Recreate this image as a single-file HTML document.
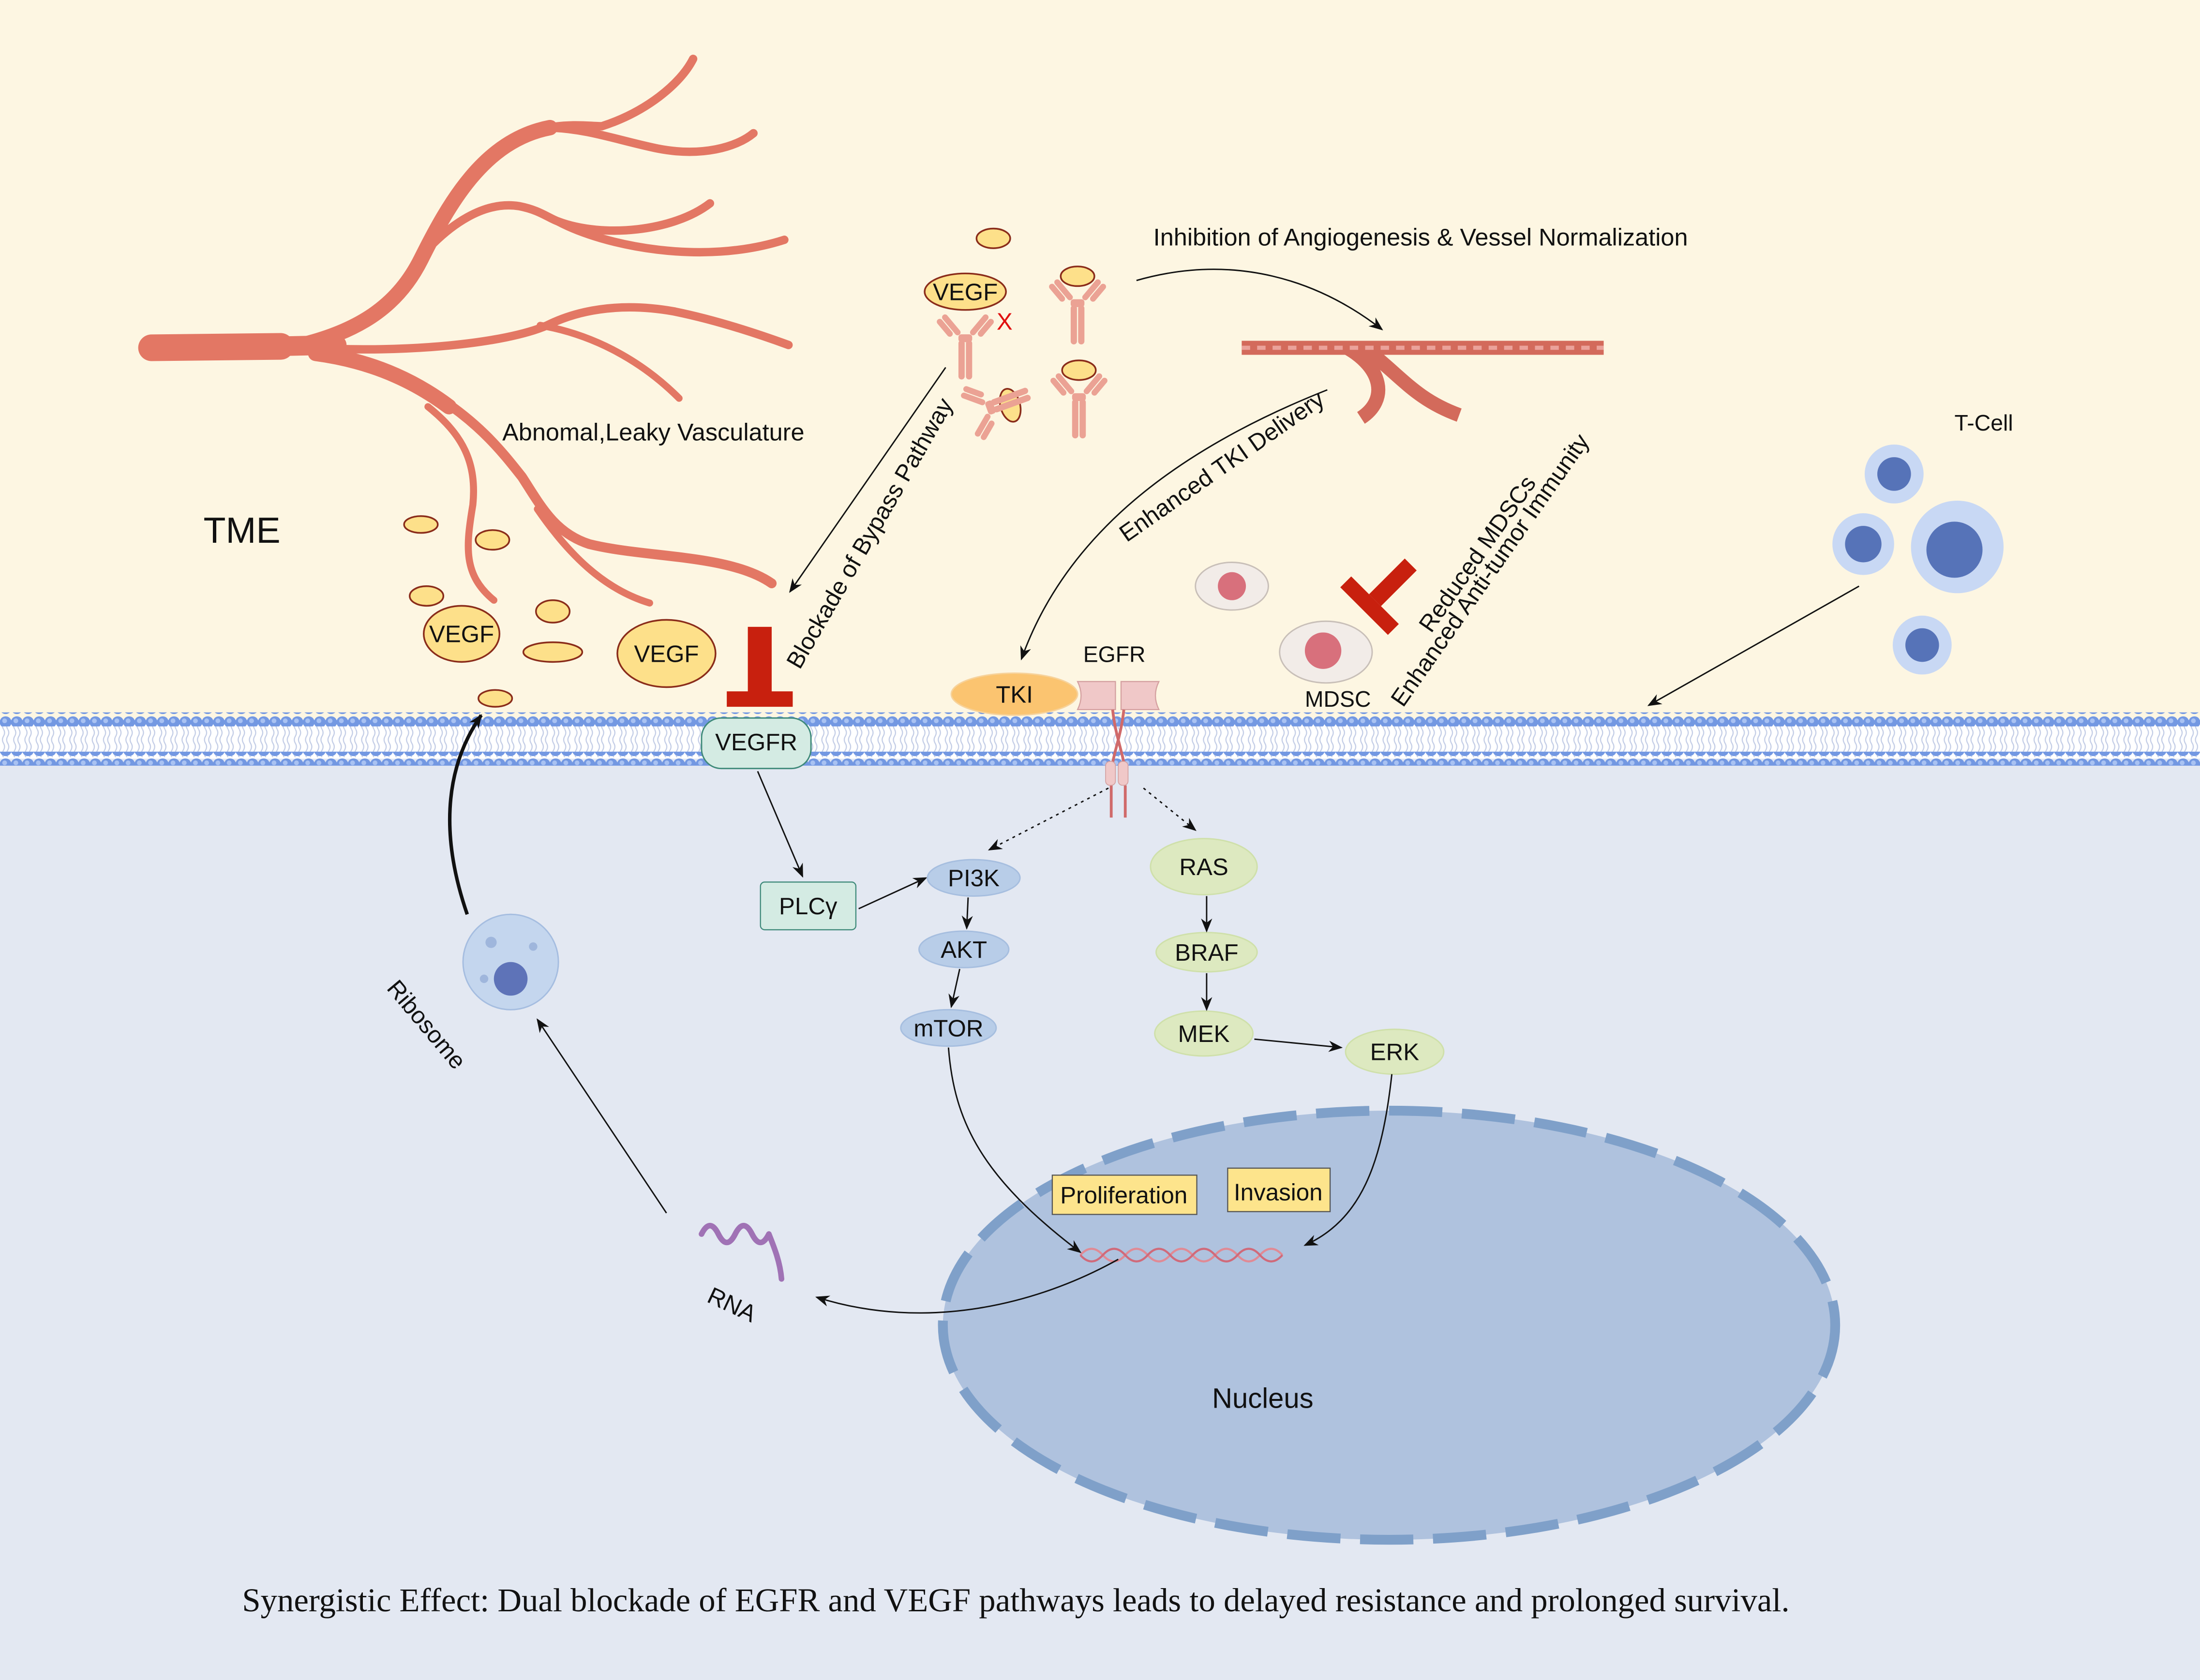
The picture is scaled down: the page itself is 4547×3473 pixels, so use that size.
<!DOCTYPE html>
<html><head><meta charset="utf-8"><style>
html,body{margin:0;padding:0;}
svg{display:block;}
text{font-family:"Liberation Sans",sans-serif;fill:#111;}
</style></head><body>
<svg width="4547" height="3473" viewBox="0 0 1568 1198" preserveAspectRatio="none" xmlns="http://www.w3.org/2000/svg">
<defs>
<marker id="ah" markerWidth="10" markerHeight="8" refX="9" refY="4" orient="auto" markerUnits="userSpaceOnUse"><path d="M0,0 L10,4 L0,8 L3,4Z" fill="#111"/></marker>
<pattern id="heads" x="0" y="0" width="8" height="10" patternUnits="userSpaceOnUse"><circle cx="4" cy="5" r="4.2" fill="#7398e2"/><circle cx="3.3" cy="4" r="1.7" fill="#a9c2f2"/></pattern>
<pattern id="tails" x="0" y="0" width="8" height="20" patternUnits="userSpaceOnUse"><path d="M2.5,0 q1.5,2.5 0,5 q-1.5,2.5 0,5 q1.5,2.5 0,5 q-1.5,2.5 0,5 M5.5,0 q1.5,2.5 0,5 q-1.5,2.5 0,5 q1.5,2.5 0,5 q-1.5,2.5 0,5" stroke="#c3cde6" stroke-width="0.8" fill="none"/></pattern>
<g id="ab">
<rect x="-3.5" y="4" width="3.2" height="20" rx="1.6" fill="#eba294"/>
<rect x="0.3" y="4" width="3.2" height="20" rx="1.6" fill="#eba294"/>
<rect x="-3.5" y="1" width="7" height="4" rx="1.5" fill="#eba294"/>
<g transform="rotate(-40)"><rect x="-4.5" y="-14" width="3" height="13" rx="1.5" fill="#eba294"/><rect x="-8" y="-14" width="3" height="11" rx="1.5" fill="#eba294"/></g>
<g transform="rotate(40)"><rect x="1.5" y="-14" width="3" height="13" rx="1.5" fill="#eba294"/><rect x="5" y="-14" width="3" height="11" rx="1.5" fill="#eba294"/></g>
</g>
</defs>
<rect x="0" y="0" width="1568" height="527" fill="#fdf6e2"/>
<rect x="0" y="527" width="1568" height="671" fill="#e3e8f2"/>

<!-- membrane -->
<rect x="0" y="513" width="1568" height="28" fill="#fff"/>
<rect x="0" y="514" width="1568" height="26" fill="url(#tails)"/>
<rect x="0" y="508" width="1568" height="10" fill="url(#heads)"/>
<rect x="0" y="536" width="1568" height="10" fill="url(#heads)"/>

<!-- vasculature -->
<g fill="none" stroke="#e37764" stroke-linecap="round">
<path d="M108,248 L200,247" stroke-width="19"/>
<path d="M195,247 L240,246" stroke-width="14"/>
<path d="M215,246 C260,235 285,215 300,185 C320,145 345,100 392,91" stroke-width="11"/>
<path d="M390,91 C410,88 420,90 429,90 C460,80 485,60 494,42" stroke-width="6"/>
<path d="M392,91 C420,92 440,100 469,106 C500,112 525,105 537,95" stroke-width="6"/>
<path d="M300,183 C320,160 345,143 370,147 C385,150 390,155 398,158 C430,170 480,165 506,145" stroke-width="6"/>
<path d="M398,158 C430,175 500,190 559,171" stroke-width="6"/>
<path d="M220,248 C290,252 360,245 390,232 C410,222 440,215 480,222 C510,228 540,238 562,246" stroke-width="6"/>
<path d="M385,232 C420,238 455,255 484,284" stroke-width="5"/>
<path d="M225,252 C270,258 300,275 320,290" stroke-width="11"/>
<path d="M315,285 C345,305 360,325 372,340 C385,360 395,380 420,388 C460,398 520,395 550,416" stroke-width="7"/>
<path d="M383,363 C405,395 430,420 463,430" stroke-width="5"/>
<path d="M305,290 C330,310 340,330 337,360 C332,390 330,410 352,428" stroke-width="5"/>
</g>
<text x="145" y="387" font-size="26">TME</text>
<text x="358" y="314" font-size="17.4">Abnomal,Leaky Vasculature</text>

<g fill="#fde08a" stroke="#8a2c1a" stroke-width="1.2">
<ellipse cx="300" cy="374" rx="12" ry="6"/>
<ellipse cx="351" cy="385" rx="12" ry="7"/>
<ellipse cx="304" cy="425" rx="12" ry="7"/>
<ellipse cx="394" cy="436" rx="12" ry="8"/>
<ellipse cx="394" cy="465" rx="21" ry="7"/>
<ellipse cx="353" cy="498" rx="12" ry="6"/>
<ellipse cx="329" cy="452" rx="27" ry="20"/>
<ellipse cx="475" cy="466" rx="35" ry="24"/>
<ellipse cx="708" cy="170" rx="12" ry="7"/>
<ellipse cx="688" cy="208" rx="29" ry="13"/>
<ellipse cx="768" cy="197" rx="12" ry="7"/>
<ellipse cx="769" cy="264" rx="12" ry="7"/>
<ellipse cx="720" cy="289" rx="7" ry="12" transform="rotate(-15 720 289)"/>
</g>
<text x="329" y="458" font-size="17" text-anchor="middle">VEGF</text>
<text x="475" y="472" font-size="17" text-anchor="middle">VEGF</text>
<text x="688" y="214" font-size="17" text-anchor="middle">VEGF</text>
<text x="716" y="235" font-size="17" text-anchor="middle" style="fill:#e01010">X</text>
<use href="#ab" transform="translate(688,237) scale(1.4)"/>
<use href="#ab" transform="translate(768,212) scale(1.4)"/>
<use href="#ab" transform="translate(769,279) scale(1.4)"/>
<use href="#ab" transform="translate(702,292) rotate(-110) scale(1.4)"/>

<!-- normalized vessel -->
<g fill="none" stroke-linecap="butt">
<path d="M885,248 L1143,248" stroke="#d36a5b" stroke-width="10"/>
<path d="M960,248 C985,262 990,285 970,298" stroke="#d36a5b" stroke-width="10"/>
<path d="M975,250 C1000,270 1010,285 1040,296" stroke="#d36a5b" stroke-width="10"/>
<path d="M885,248 L1143,248" stroke="#eba29a" stroke-width="3" stroke-dasharray="6 5"/>
</g>
<text x="822" y="175" font-size="17.4">Inhibition of Angiogenesis &amp; Vessel Normalization</text>
<path d="M810,200 C880,180 940,200 985,235" fill="none" stroke="#111" stroke-width="1" marker-end="url(#ah)"/>
<path d="M946,278 C840,320 760,380 728,470" fill="none" stroke="#111" stroke-width="1" marker-end="url(#ah)"/>
<text transform="translate(803,387) rotate(-35)" font-size="17">Enhanced TKI Delivery</text>
<path d="M674,262 L563,422" fill="none" stroke="#111" stroke-width="1" marker-end="url(#ah)"/>
<text transform="translate(570,478) rotate(-60)" font-size="17">Blockade of Bypass Pathway</text>

<!-- inhibitor T -->
<rect x="533" y="447" width="17" height="47" fill="#c8200e"/>
<rect x="518" y="493" width="47" height="11" fill="#c8200e"/>
<g transform="translate(980,428) rotate(45)"><rect x="-6" y="-36" width="12" height="36" fill="#c8200e"/><rect x="-24" y="0" width="48" height="11" fill="#c8200e"/></g>
<text transform="translate(1020,452) rotate(-55)" font-size="17">Reduced MDSCs</text>
<text transform="translate(1000,505) rotate(-55)" font-size="17">Enhanced Anti-tumor Immunity</text>

<!-- MDSC -->
<ellipse cx="878" cy="418" rx="26" ry="17" fill="#f2ece8" stroke="#c8bfb8"/>
<circle cx="878" cy="418" r="10" fill="#d8707c"/>
<ellipse cx="945" cy="465" rx="33" ry="22" fill="#f2ece8" stroke="#c8bfb8"/>
<circle cx="943" cy="464" r="13" fill="#d8707c"/>
<text x="930" y="504" font-size="16">MDSC</text>

<!-- T cells -->
<g>
<circle cx="1350" cy="338" r="21" fill="#c8d8f4"/><circle cx="1350" cy="338" r="12" fill="#5673b8"/>
<circle cx="1328" cy="388" r="22" fill="#c8d8f4"/><circle cx="1328" cy="388" r="13" fill="#5673b8"/>
<circle cx="1395" cy="390" r="33" fill="#c8d8f4"/><circle cx="1393" cy="392" r="20" fill="#5673b8"/>
<circle cx="1370" cy="460" r="21" fill="#c8d8f4"/><circle cx="1370" cy="460" r="12" fill="#5673b8"/>
</g>
<text x="1393" y="307" font-size="16">T-Cell</text>
<path d="M1325,418 L1175,503" fill="none" stroke="#111" stroke-width="1" marker-end="url(#ah)"/>

<!-- TKI & EGFR -->
<ellipse cx="723" cy="495" rx="45" ry="15" fill="#fbc470" stroke="#f7d29a"/>
<text x="723" y="501" font-size="17" text-anchor="middle">TKI</text>
<text x="772" y="472" font-size="16">EGFR</text>
<path d="M768,486 L795,486 L795,506 L768,506 Q773,496 768,486Z" fill="#f0c8c8" stroke="#d4a0a0" stroke-width="0.8"/>
<path d="M799,486 L826,486 Q821,496 826,506 L799,506Z" fill="#f0c8c8" stroke="#d4a0a0" stroke-width="0.8"/>
<path d="M793,506 C795,525 800,535 802,550 M801,506 C799,525 794,535 792,550" stroke="#d06a6a" stroke-width="2" fill="none"/>
<path d="M792,560 L792,583 M802,560 L802,583" stroke="#d06a6a" stroke-width="2"/>
<rect x="788" y="543" width="7" height="17" rx="3" fill="#f0c8c8" stroke="#d4a0a0" stroke-width="0.6"/>
<rect x="797" y="543" width="7" height="17" rx="3" fill="#f0c8c8" stroke="#d4a0a0" stroke-width="0.6"/>
<path d="M790,562 L705,606" stroke="#111" stroke-dasharray="2 3" fill="none" marker-end="url(#ah)"/>
<path d="M815,562 L852,592" stroke="#111" stroke-dasharray="2 3" fill="none" marker-end="url(#ah)"/>

<!-- VEGFR -->
<rect x="500" y="512" width="78" height="36" rx="14" fill="#d4ebe3" stroke="#3f8a7a" stroke-width="1"/>
<text x="539" y="535" font-size="17" text-anchor="middle">VEGFR</text>
<path d="M540,550 L572,625" stroke="#111" fill="none" marker-end="url(#ah)"/>
<rect x="542" y="629" width="68" height="34" rx="3" fill="#d4ebe3" stroke="#3f8a7a" stroke-width="0.8"/>
<text x="576" y="652" font-size="17" text-anchor="middle">PLCγ</text>
<path d="M612,648 L660,626" stroke="#111" fill="none" marker-end="url(#ah)"/>

<!-- PI3K chain -->
<g fill="#b8cde8" stroke="#a6bedf">
<ellipse cx="694" cy="626" rx="33" ry="13"/>
<ellipse cx="687" cy="677" rx="32" ry="13"/>
<ellipse cx="676" cy="733" rx="34" ry="13"/>
</g>
<text x="694" y="632" font-size="17" text-anchor="middle">PI3K</text>
<text x="687" y="683" font-size="17" text-anchor="middle">AKT</text>
<text x="676" y="739" font-size="17" text-anchor="middle">mTOR</text>
<path d="M690,640 L689,662" stroke="#111" marker-end="url(#ah)"/>
<path d="M684,691 L678,718" stroke="#111" marker-end="url(#ah)"/>

<!-- RAS chain -->
<g fill="#dde9c0" stroke="#cfe0aa">
<ellipse cx="858" cy="618" rx="38" ry="20"/>
<ellipse cx="860" cy="679" rx="36" ry="14"/>
<ellipse cx="858" cy="737" rx="35" ry="16"/>
<ellipse cx="994" cy="750" rx="35" ry="16"/>
</g>
<text x="858" y="624" font-size="17" text-anchor="middle">RAS</text>
<text x="860" y="685" font-size="17" text-anchor="middle">BRAF</text>
<text x="858" y="743" font-size="17" text-anchor="middle">MEK</text>
<text x="994" y="756" font-size="17" text-anchor="middle">ERK</text>
<path d="M860,639 L860,664" stroke="#111" marker-end="url(#ah)"/>
<path d="M860,694 L860,720" stroke="#111" marker-end="url(#ah)"/>
<path d="M894,741 L956,747" stroke="#111" marker-end="url(#ah)"/>

<!-- nucleus -->
<ellipse cx="990" cy="945" rx="318" ry="153" fill="#afc2de" stroke="#7fa0c9" stroke-width="7" stroke-dasharray="38 14"/>
<text x="900" y="1004" font-size="20" text-anchor="middle">Nucleus</text>
<rect x="750" y="838" width="103" height="28" fill="#fde48c" stroke="#555" stroke-width="0.8"/>
<text x="801" y="858" font-size="17" text-anchor="middle">Proliferation</text>
<rect x="875" y="833" width="73" height="31" fill="#fde48c" stroke="#555" stroke-width="0.8"/>
<text x="911" y="856" font-size="17" text-anchor="middle">Invasion</text>
<!-- DNA -->
<path d="M770,895 q8,-9 16,0 t16,0 t16,0 t16,0 t16,0 t16,0 t16,0 t16,0 t16,0" stroke="#e08a95" stroke-width="1.5" fill="none"/>
<path d="M770,895 q8,9 16,0 t16,0 t16,0 t16,0 t16,0 t16,0 t16,0 t16,0 t16,0" stroke="#d06a7a" stroke-width="1.5" fill="none"/>
<path d="M676,747 C680,800 700,840 770,893" fill="none" stroke="#111" marker-end="url(#ah)"/>
<path d="M992,766 C985,830 970,870 930,888" fill="none" stroke="#111" marker-end="url(#ah)"/>
<path d="M797,898 C740,930 660,950 582,925" fill="none" stroke="#111" marker-end="url(#ah)"/>

<!-- RNA -->
<path d="M500,880 q6,-12 12,0 t12,0 t12,0 t12,0 M548,880 C552,890 556,900 557,912" stroke="#a072b5" stroke-width="4" fill="none" stroke-linecap="round"/>
<text transform="translate(503,928) rotate(25)" font-size="17">RNA</text>
<path d="M475,865 L383,727" fill="none" stroke="#111" marker-end="url(#ah)"/>

<!-- ribosome cell -->
<circle cx="364" cy="686" r="34" fill="#c4d6ee" stroke="#a5bde0"/>
<circle cx="364" cy="698" r="12" fill="#5e73b8"/>
<circle cx="350" cy="672" r="4" fill="#9fb6dc"/><circle cx="380" cy="675" r="3" fill="#9fb6dc"/><circle cx="345" cy="698" r="3" fill="#9fb6dc"/>
<text transform="translate(275,705) rotate(50)" font-size="17">Ribosome</text>
<path d="M333,652 C315,600 315,550 343,510" fill="none" stroke="#111" stroke-width="2.5" marker-end="url(#ah)"/>

<text x="724" y="1149" font-size="23.7" text-anchor="middle" style="font-family:'Liberation Serif',serif">Synergistic Effect: Dual blockade of EGFR and VEGF pathways leads to delayed resistance and prolonged survival.</text>
</svg>
</body></html>
